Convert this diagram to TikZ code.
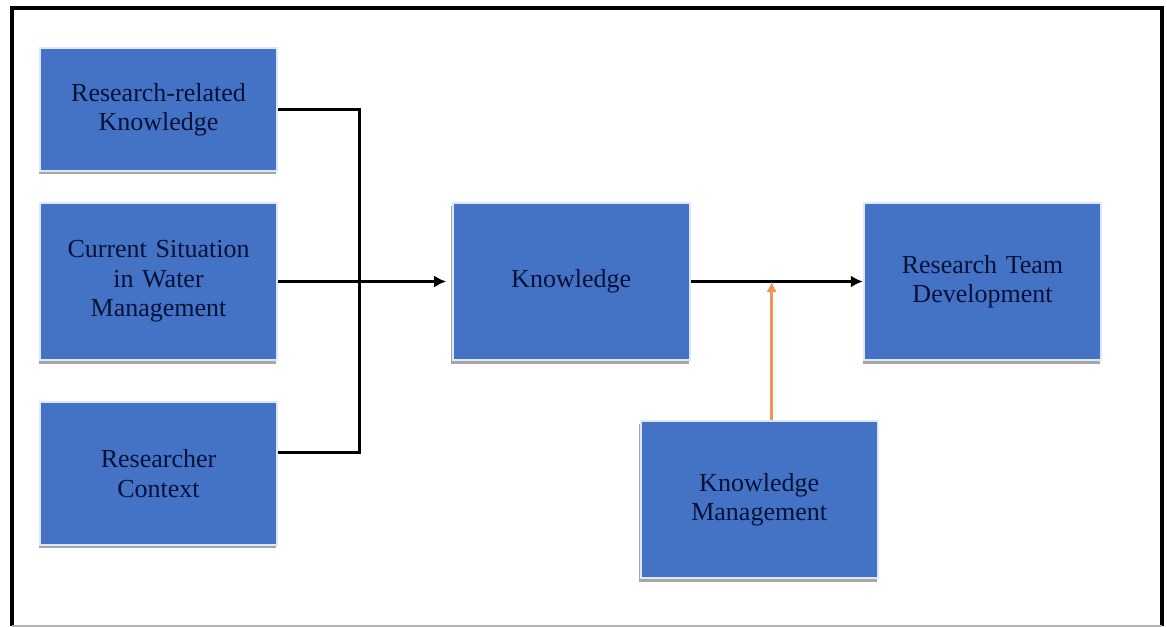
\documentclass[tikz,border=0pt]{standalone}
\usepackage{fontspec}
\setmainfont{Liberation Serif}
\usepackage{tikz}
\usetikzlibrary{arrows.meta, positioning, calc, shadows}
\definecolor{boxfill}{HTML}{4472C4}
\definecolor{boxrim}{HTML}{DDE7F5}
\definecolor{boxtext}{HTML}{06123A}
\definecolor{ink}{HTML}{000000}
\definecolor{feed}{HTML}{F0955A}
\tikzset{
  box/.style  ={fill=boxfill, draw=boxrim, line width=1.5pt, minimum width=178pt,
                text width=150pt, align=center, text=boxtext, inner sep=0pt,
                font=\fontsize{19.5}{22}\selectfont,
                drop shadow={shadow xshift=-1pt, shadow yshift=-2.5pt, fill=gray!70, opacity=1}},
  link/.style ={line width=2.8pt, draw=ink},
  flow/.style ={-{Latex[length=9pt,width=9pt]}, line width=2.8pt, draw=ink},
  flowo/.style={-{Latex[length=8pt,width=8pt]}, line width=2.2pt, draw=feed}
}

\begin{document}
\begin{tikzpicture}[x=0.75pt, y=-0.75pt]
  \useasboundingbox (0,0) rectangle (1167,627);
  % outer frame
  \draw[line width=2.5pt] (12,626) -- (12,8) -- (1162,8) -- (1162,626);
  \draw[gray!60, line width=0.8pt] (12,626) -- (1162,626);

  \node[box, minimum height=92pt]                    (rrk)  at (158.5,109.5) {Research-related\\Knowledge};
  \node[box, minimum height=118pt, below=22.5pt of rrk] (csw)  {Current Situation\\in Water\\Management};
  \node[box, minimum height=107pt, below=30pt of csw]   (rc)   {Researcher\\Context};
  \node[box, minimum height=118pt, right=130pt of csw]  (know) {Knowledge};
  \node[box, minimum height=118pt, right=129pt of know] (rtd)  {Research Team\\Development};
  \node[box, minimum height=118pt, below=44pt of know, xshift=141pt] (km) {Knowledge\\Management};

  \coordinate (join) at ($(csw.east)+(61pt,0)$);
  \coordinate (meet) at ($(know.east)!0.47!(rtd.west)$);

  \draw[link] (rrk.east) -| (join);
  \draw[link] ([yshift=15.75pt]rc.east) -| (join);
  \draw[flow, shorten >=4pt] (csw.east) -- (know.west);
  \draw[flow] (know) -- (rtd);
  \draw[flowo] (km.north -| meet) -- (meet);
\end{tikzpicture}
\end{document}
